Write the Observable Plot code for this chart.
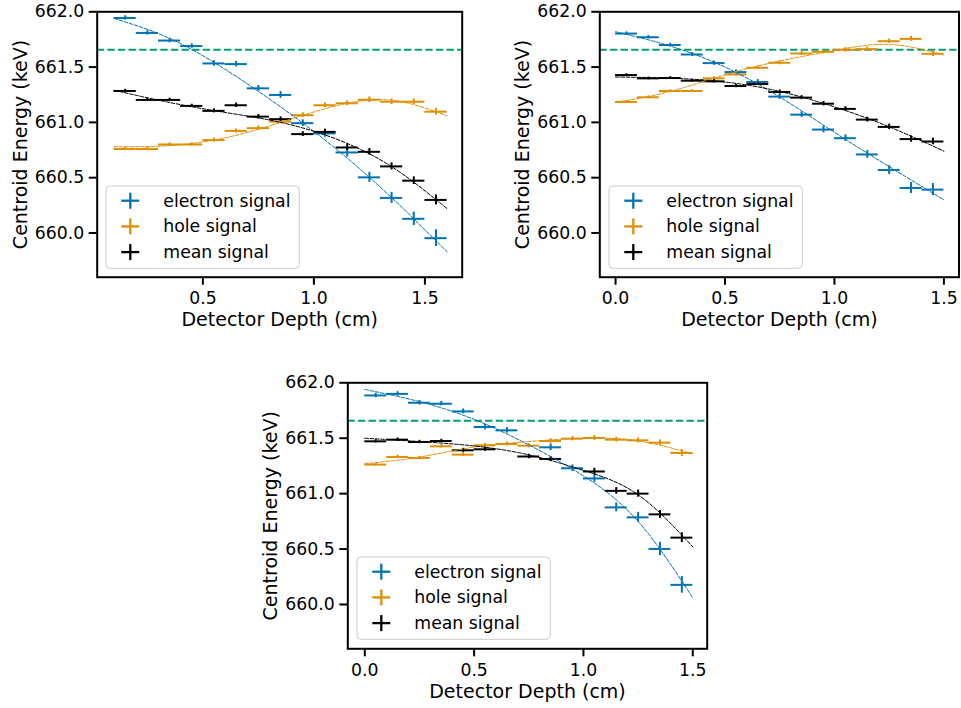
<!DOCTYPE html>
<html><head><meta charset="utf-8">
<script src="https://cdn.jsdelivr.net/npm/d3@7"></script>
<script src="https://cdn.jsdelivr.net/npm/@observablehq/plot@0.6"></script>
<style>
body{margin:0;background:#fff;}
#fig{position:relative;width:961px;height:708px;overflow:hidden;font-family:"DejaVu Sans",sans-serif;background:#fff;}
.panel{position:absolute;}
.legend{position:absolute;}
</style></head><body><div id="fig"></div>
<script>
// ---------- data ----------
const seriesNames = ["electron signal", "hole signal", "mean signal"];
const seriesColors = ["#0173b2", "#de8f05", "#000000"];
const refEnergy = 661.657;           // Cs-137 line (keV)
const binHalfWidth = 0.05;           // depth bin half width (cm)
const yTicks = [660.0, 660.5, 661.0, 661.5, 662.0];
const xTicksA = [0.5, 1.0, 1.5];
const xTicksB = [0.0, 0.5, 1.0, 1.5];

// panel 1 (top left)
const depthA = [0.15,0.25,0.35,0.45,0.55,0.65,0.75,0.85,0.95,1.05,1.15,1.25,1.35,1.45,1.55];
const electronA = [661.944,661.809,661.740,661.690,661.533,661.527,661.308,661.248,660.993,660.900,660.728,660.503,660.317,660.128,659.953];
const holeA     = [660.759,660.759,660.800,660.800,660.840,660.923,660.948,661.007,661.065,661.155,661.173,661.205,661.187,661.187,661.097];
const meanA     = [661.284,661.203,661.203,661.149,661.104,661.155,661.052,661.029,660.894,660.914,660.773,660.734,660.602,660.473,660.299];
const electronErrA = [0.02,0.02,0.02,0.02,0.025,0.025,0.025,0.03,0.03,0.035,0.04,0.045,0.05,0.06,0.075];
const holeErrA     = [0.015,0.015,0.015,0.015,0.018,0.018,0.02,0.02,0.022,0.022,0.022,0.025,0.025,0.025,0.03];
const meanErrA     = [0.015,0.015,0.015,0.015,0.018,0.02,0.02,0.02,0.022,0.025,0.028,0.03,0.032,0.035,0.045];
const fitDepthA = [0.1,0.35,0.6,0.85,1.1,1.35,1.6];
const fitElectronA = [661.94,661.76,661.48,661.14,660.76,660.32,659.83];
const fitHoleA     = [660.78,660.79,660.86,661.00,661.15,661.20,661.06];
const fitMeanA     = [661.29,661.18,661.09,661.00,660.85,660.60,660.22];

// panel 2 (top right)
const depthB = [0.05,0.15,0.25,0.35,0.45,0.55,0.65,0.75,0.85,0.95,1.05,1.15,1.25,1.35,1.45];
const electronB = [661.803,661.770,661.700,661.614,661.536,661.455,661.365,661.233,661.070,660.935,660.857,660.710,660.569,660.407,660.392];
const holeB     = [661.185,661.227,661.284,661.284,661.398,661.434,661.494,661.539,661.623,661.638,661.656,661.662,661.734,661.755,661.620];
const meanB     = [661.428,661.398,661.401,661.377,661.371,661.329,661.347,661.275,661.224,661.169,661.122,661.025,660.959,660.849,660.827];
const electronErrB = [0.015,0.015,0.015,0.018,0.02,0.02,0.022,0.025,0.025,0.03,0.03,0.035,0.04,0.05,0.055];
const holeErrB     = [0.012,0.012,0.012,0.012,0.015,0.015,0.015,0.018,0.018,0.018,0.02,0.02,0.02,0.022,0.025];
const meanErrB     = [0.012,0.012,0.012,0.012,0.015,0.015,0.015,0.018,0.018,0.02,0.02,0.022,0.025,0.028,0.03];
const fitDepthB = [0.0,0.25,0.5,0.75,1.0,1.25,1.5];
const fitElectronB = [661.82,661.69,661.50,661.23,660.91,660.60,660.30];
const fitHoleB     = [661.18,661.28,661.43,661.555,661.65,661.705,661.61];
const fitMeanB     = [661.41,661.40,661.365,661.28,661.14,660.96,660.74];

// panel 3 (bottom)
const depthC = [0.05,0.15,0.25,0.35,0.45,0.55,0.65,0.75,0.85,0.95,1.05,1.15,1.25,1.35,1.45];
const electronC = [661.886,661.900,661.820,661.811,661.742,661.601,661.571,null,661.418,661.229,661.137,660.876,660.786,660.501,660.177];
const holeC     = [661.262,661.331,661.322,661.427,661.352,661.436,661.448,661.433,661.475,661.496,661.502,661.487,661.481,661.460,661.367];
const meanC     = [661.472,661.487,661.466,661.475,661.391,661.400,null,661.335,661.313,null,661.200,661.025,661.000,660.813,660.603];
const electronErrC = [0.02,0.02,0.02,0.02,0.022,0.025,0.025,0.025,0.03,0.03,0.035,0.04,0.045,0.06,0.075];
const holeErrC     = [0.015,0.015,0.015,0.015,0.018,0.018,0.018,0.02,0.02,0.02,0.022,0.022,0.022,0.025,0.03];
const meanErrC     = [0.015,0.015,0.015,0.015,0.018,0.018,0.02,0.02,0.022,0.025,0.028,0.03,0.032,0.035,0.045];
const fitDepthC = [0.0,0.25,0.5,0.75,1.0,1.25,1.5];
const fitElectronC = [661.94,661.83,661.67,661.44,661.16,660.75,660.06];
const fitHoleC     = [661.27,661.33,661.42,661.47,661.50,661.475,661.36];
const fitMeanC     = [661.50,661.47,661.43,661.35,661.21,660.99,660.52];

// ---------- drawing ----------
const fig = document.getElementById("fig");
const green = "#029e73";
const fmt1 = d => d.toFixed(1);

function makePanel(cfg) {
  const marks = [
    Plot.ruleY([refEnergy], {stroke: green, strokeWidth: 2, strokeDasharray: "7.4,3.2"})
  ];
  cfg.values.forEach((vals, si) => {
    const rows = vals.map((v, i) => ({x: cfg.depth[i], v, err: cfg.errs[si][i]})).filter(d => d.v != null);
    marks.push(Plot.ruleY(rows, {y: "v", x1: d => d.x - binHalfWidth, x2: d => d.x + binHalfWidth, stroke: seriesColors[si], strokeWidth: 2}));
    marks.push(Plot.ruleX(rows, {x: "x", y1: d => d.v - d.err, y2: d => d.v + d.err, stroke: seriesColors[si], strokeWidth: 2}));
  });
  cfg.fits.forEach((vals, si) => {
    const rows = vals.map((v, i) => ({x: cfg.fitDepth[i], v}));
    marks.push(Plot.line(rows, {x: "x", y: "v", curve: "natural", stroke: seriesColors[si], strokeWidth: 1, strokeDasharray: "3.7,1.6"}));
  });
  marks.push(
    Plot.frame({stroke: "black", strokeWidth: 2}),
    Plot.axisX(cfg.xTicks, {tickFormat: fmt1, tickSize: 8, tickPadding: 7, strokeWidth: 2, stroke: "black", fill: "black", fontSize: 17.3, label: null}),
    Plot.axisY(yTicks, {tickFormat: fmt1, tickSize: 8, tickPadding: 5, strokeWidth: 2, stroke: "black", fill: "black", fontSize: 17.3, label: null}),
    Plot.text(["Centroid Energy (keV)"], {text: d => d, frameAnchor: "left", textAnchor: "middle", lineAnchor: "middle", dx: -76.7, rotate: -90, fontSize: 19, fill: "black"}),
    Plot.text(["Detector Depth (cm)"], {text: d => d, frameAnchor: "bottom", textAnchor: "middle", lineAnchor: "middle", dy: 43, fontSize: 19, fill: "black"})
  );
  const chart = Plot.plot({
    width: cfg.w, height: cfg.h,
    marginLeft: cfg.ml, marginRight: cfg.mr, marginTop: cfg.mt, marginBottom: cfg.mb,
    x: {domain: cfg.xDomain, axis: null},
    y: {domain: [659.6, 662.0], axis: null},
    style: {fontFamily: "DejaVu Sans", fontSize: "17.3px", color: "black", background: "transparent", overflow: "visible"},
    marks
  });
  const wrap = document.createElement("div");
  wrap.className = "panel";
  wrap.style.left = cfg.left + "px";
  wrap.style.top = cfg.top + "px";
  wrap.appendChild(chart);
  fig.appendChild(wrap);

  // legend (matplotlib style)
  const fl = cfg.left + cfg.ml, ft = cfg.top + cfg.mt;
  const lw = 193.3, lh = 82.3;
  const ns = "http://www.w3.org/2000/svg";
  const svg = document.createElementNS(ns, "svg");
  svg.setAttribute("width", lw + 2); svg.setAttribute("height", lh + 2);
  svg.setAttribute("class", "legend");
  svg.style.left = (fl + 9.3 - 1) + "px";
  svg.style.top = (ft + 174.7 - 1) + "px";
  let html = `<rect x="1" y="1" width="${lw}" height="${lh}" rx="4" ry="4" fill="rgba(255,255,255,0.8)" stroke="#cccccc" stroke-width="1"/>`;
  seriesNames.forEach((name, i) => {
    const cy = 1 + 14.7 + i * 25.7;
    const cx = 1 + 24.3;
    html += `<line x1="${cx - 9}" x2="${cx + 9}" y1="${cy}" y2="${cy}" stroke="${seriesColors[i]}" stroke-width="2.3"/>`;
    html += `<line x1="${cx}" x2="${cx}" y1="${cy - 8}" y2="${cy + 8}" stroke="${seriesColors[i]}" stroke-width="2.3"/>`;
    html += `<text x="${1 + 57.3}" y="${cy + 6}" font-family="DejaVu Sans" font-size="17.3" fill="black">${name}</text>`;
  });
  svg.innerHTML = html;
  fig.appendChild(svg);
}

makePanel({
  left: 0, top: 0, w: 480, h: 345, ml: 96.7, mr: 18.3, mt: 11.3, mb: 68.3,
  xDomain: [0.024, 1.668], xTicks: xTicksA,
  depth: depthA, values: [electronA, holeA, meanA], errs: [electronErrA, holeErrA, meanErrA],
  fitDepth: fitDepthA, fits: [fitElectronA, fitHoleA, fitMeanA]
});
makePanel({
  left: 480, top: 0, w: 481, h: 345, ml: 119.3, mr: 2.5, mt: 11.3, mb: 68.3,
  xDomain: [-0.072, 1.569], xTicks: xTicksB,
  depth: depthB, values: [electronB, holeB, meanB], errs: [electronErrB, holeErrB, meanErrB],
  fitDepth: fitDepthB, fits: [fitElectronB, fitHoleB, fitMeanB]
});
makePanel({
  left: 230, top: 360, w: 500, h: 348, ml: 117.3, mr: 23.3, mt: 22.3, mb: 59.7,
  xDomain: [-0.0777, 1.566], xTicks: xTicksB,
  depth: depthC, values: [electronC, holeC, meanC], errs: [electronErrC, holeErrC, meanErrC],
  fitDepth: fitDepthC, fits: [fitElectronC, fitHoleC, fitMeanC]
});
</script></body></html>
